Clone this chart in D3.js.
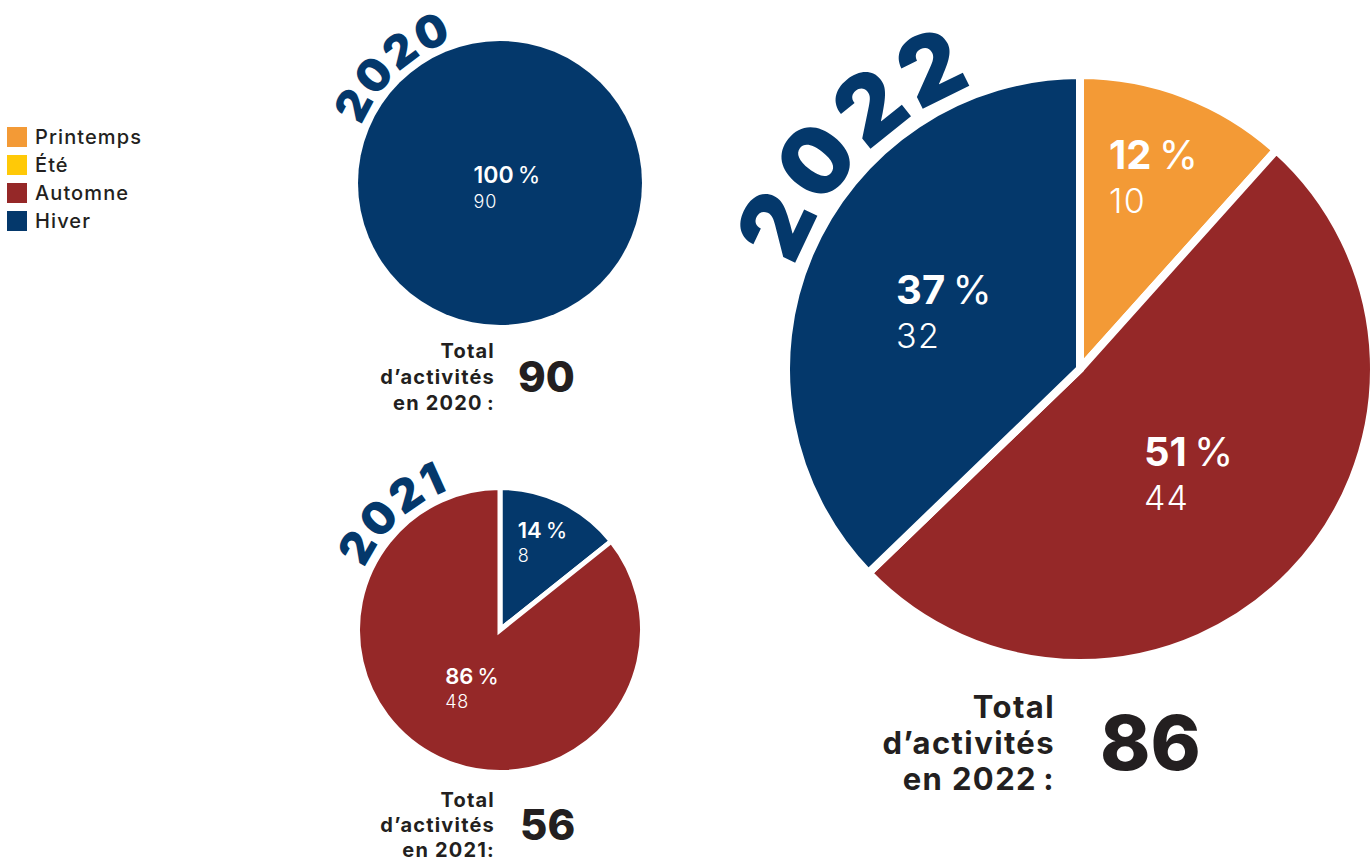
<!DOCTYPE html>
<html><head><meta charset="utf-8">
<script src="https://cdn.jsdelivr.net/npm/d3@7"></script>
<style>
body{margin:0;background:#fff;}
svg{display:block;font-family:Inter,"Open Sans",sans-serif;}
</style>
</head><body>
<svg id="c" width="1372" height="863"></svg>
<script>
// ---- data ----
const legendSeasons = ["Printemps", "Été", "Automne", "Hiver"];
const seasonColors = ["#F39A36", "#FFC907", "#952828", "#04386B"];
const years = ["2020", "2021", "2022"];
const seasons2020 = ["Hiver"];
const values2020 = [90];
const seasons2021 = ["Hiver", "Automne"];
const values2021 = [8, 48];
const seasons2022 = ["Printemps", "Automne", "Hiver"];
const values2022 = [10, 44, 32];
const totals = [90, 56, 86];
const totalLine1 = ["Total", "Total", "Total"];
const totalLine2 = ["d’activités", "d’activités", "d’activités"];
const totalLine3 = ["en 2020\u202F:", "en 2021:", "en 2022\u202F:"];

// ---- layout ----
const layout = [
  {cx:500, cy:183, r:142, sw:0, yearFont:45, yearR:150, yearLs:0.05, yearC:-43, pFont:23, vFont:18, pW:600, labelR:[0],
   totFont:20, totLs:0.06, totLine:26, totTop:33, totDx:-5, numDx:18, numFont:42},
  {cx:500, cy:630, r:140, sw:5, yearFont:45, yearR:149, yearLs:0.05, yearC:-43, pFont:22, vFont:18, pW:600, labelR:[0.7,0.46],
   totFont:20, totLs:0.06, totLine:25, totTop:37, totDx:-5, numDx:20, numFont:42},
  {cx:1080, cy:369, r:290, sw:8, yearFont:93, yearR:303, yearLs:0.06, yearC:-45.5, pFont:40, vFont:34, pW:700, labelR:[0.71,0.52,0.51],
   totFont:31, totLs:0.045, totLine:36, totTop:59, totDx:-25, numDx:20, numFont:76}
];
const seasonsByYear = [seasons2020, seasons2021, seasons2022];
const valuesByYear = [values2020, values2021, values2022];

const color = d3.scaleOrdinal().domain(legendSeasons).range(seasonColors);
const navy = color("Hiver");
const svg = d3.select("#c");

// legend
const leg = svg.append("g").attr("transform", "translate(7,127)");
legendSeasons.forEach((s, i) => {
  const g = leg.append("g").attr("transform", `translate(0,${i * 28})`);
  g.append("rect").attr("width", 20).attr("height", 20).attr("fill", color(s));
  g.append("text").attr("x", 28).attr("y", 17).attr("font-size", 20)
    .attr("letter-spacing", 1.1)
    .attr("fill", "#231f20").attr("font-weight", 500).text(s);
});

const pie = d3.pie().sort(null).value(d => d.v);

years.forEach((yr, k) => {
  const L = layout[k];
  const data = seasonsByYear[k].map((s, i) => ({s, v: valuesByYear[k][i]}));
  const total = d3.sum(data, d => d.v);
  const arcs = pie(data);
  const g = svg.append("g").attr("transform", `translate(${L.cx},${L.cy})`);
  const arc = d3.arc().innerRadius(0).outerRadius(L.r + L.sw / 2);
  g.selectAll("path.slice").data(arcs).join("path").attr("class", "slice")
    .attr("d", arc).attr("fill", d => color(d.data.s))
    .attr("stroke", "#fff").attr("stroke-width", L.sw).attr("stroke-linejoin", "miter");

  // slice labels
  arcs.forEach((d, i) => {
    const mid = (d.startAngle + d.endAngle) / 2;
    const rr = arcs.length === 1 ? 0 : L.labelR[i] * L.r;
    const lx = rr * Math.sin(mid) + (arcs.length === 1 ? 7 : 0);
    const ly = -rr * Math.cos(mid) + (arcs.length === 1 ? 4 : 0);
    const pct = Math.round(d.data.v / total * 100);
    const pb = ly - 0.19 * L.pFont;
    const t1 = g.append("text").attr("y", pb).attr("font-size", L.pFont).attr("fill", "#fff")
      .attr("letter-spacing", L.pFont * 0.03);
    t1.append("tspan").attr("font-weight", L.pW).text(pct);
    t1.append("tspan").attr("font-weight", 400).text("\u202F%");
    const w = t1.node().getComputedTextLength();
    t1.attr("x", lx - w / 2);
    g.append("text").attr("x", lx - w / 2).attr("y", pb + 1.1 * L.pFont)
      .attr("font-size", L.vFont).attr("font-weight", 300).attr("fill", "#fff")
      .attr("letter-spacing", L.vFont * 0.04)
      .text(d.data.v);
  });

  // curved year label, one glyph at a time along the arc
  const R = L.yearR, c = L.yearC * Math.PI / 180, ls = L.yearFont * L.yearLs;
  const yg = g.append("g").attr("font-size", L.yearFont).attr("font-weight", 900).attr("fill", navy);
  const chars = yr.split("");
  const glyphs = chars.map(ch => yg.append("text").attr("text-anchor", "middle").text(ch));
  const widths = glyphs.map(t => t.node().getComputedTextLength());
  const totalLen = d3.sum(widths) + ls * (chars.length - 1);
  let pos = -totalLen / 2;
  glyphs.forEach((t, i) => {
    const s = pos + widths[i] / 2;
    const th = c + s / R;
    t.attr("transform", `translate(${R * Math.sin(th)},${-R * Math.cos(th)}) rotate(${th * 180 / Math.PI})`);
    pos += widths[i] + ls;
  });

  // totals
  const tx = L.cx + L.totDx, ty = L.cy + L.r + L.totTop;
  const tg = svg.append("g").attr("font-weight", 700).attr("fill", "#231f20");
  [totalLine1[k], totalLine2[k], totalLine3[k]].forEach((s, j) => {
    tg.append("text").attr("x", tx).attr("y", ty + j * L.totLine)
      .attr("text-anchor", "end").attr("font-size", L.totFont)
      .attr("letter-spacing", L.totFont * L.totLs).text(s);
  });
  const blockC = (ty - 0.72 * L.totFont + ty + 2 * L.totLine) / 2;
  tg.append("text").attr("x", L.cx + L.numDx).attr("y", blockC + 0.36 * L.numFont)
    .attr("font-size", L.numFont).attr("font-weight", 800).text(totals[k]);
});
</script>
</body></html>
